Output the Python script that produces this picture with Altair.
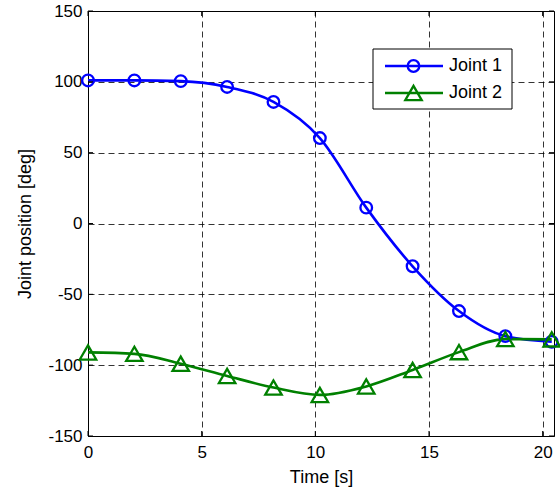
import altair as alt
import pandas as pd

# ---- data ----
time = [0, 2.04, 4.08, 6.12, 8.16, 10.2, 12.24, 14.28, 16.32, 18.36, 20.4]
joint1 = [101, 101, 100.5, 96.4, 85.8, 60.3, 11.2, -30.2, -61.8, -79.5, -83.5]
joint2 = [-91, -92, -99, -107.6, -115.8, -121, -115, -103.4, -90.8, -81.6, -81.8]
series_names = ["Joint 1", "Joint 2"]
series_colors = ["#0000ff", "#008000"]
series_shapes = ["circle", "triangle-up"]
x_ticks = [0, 5, 10, 15, 20]
y_ticks = [-150, -100, -50, 0, 50, 100, 150]

W, H = 466, 425
FONT = "Liberation Sans"

rows = []
for t, a, b in zip(time, joint1, joint2):
    rows.append({"t": t, "v": a, "s": "Joint 1"})
    rows.append({"t": t, "v": b, "s": "Joint 2"})
df = pd.DataFrame(rows)

xs = alt.Scale(domain=[0, 20.5], nice=False, zero=False)
ys = alt.Scale(domain=[-150, 150], nice=False, zero=False)
cs = alt.Scale(domain=series_names, range=series_colors)
ss = alt.Scale(domain=series_names, range=series_shapes)

grid_axis = dict(grid=True, gridColor="#000000", gridDash=[6, 4], gridWidth=0.8,
                 ticks=False, domain=False, labelFont=FONT, labelFontSize=17,
                 labelColor="#000000", titleFont=FONT, titleFontSize=18,
                 titleFontWeight="normal", titleColor="#000000", labelFlush=False,
                 labelExpr="toString(datum.value)")

base = alt.Chart(df)
lines = base.mark_line(strokeWidth=2.6, interpolate="monotone").encode(
    x=alt.X("t:Q", scale=xs, axis=alt.Axis(values=x_ticks, title="Time [s]",
                                           labelPadding=8, titlePadding=8, **grid_axis)),
    y=alt.Y("v:Q", scale=ys, axis=alt.Axis(values=y_ticks, title="Joint position [deg]",
                                           labelPadding=6, titlePadding=13, **grid_axis)),
    color=alt.Color("s:N", scale=cs, legend=None),
    detail="s:N",
)
points = base.mark_point(filled=False, strokeWidth=2.3, opacity=1).encode(
    x=alt.X("t:Q", scale=xs),
    y=alt.Y("v:Q", scale=ys),
    color=alt.Color("s:N", scale=cs, legend=None),
    shape=alt.Shape("s:N", scale=ss, legend=None),
    size=alt.condition("datum.s == 'Joint 1'", alt.value(135), alt.value(270)),
)

# inward ticks on all four sides
xt = pd.DataFrame({"t": x_ticks})
yt = pd.DataFrame({"v": y_ticks})
tick_style = dict(color="#000000", strokeWidth=1)
xb = alt.Chart(xt).mark_rule(**tick_style).encode(x=alt.X("t:Q", scale=xs), y=alt.value(H), y2=alt.value(H - 5))
xtop = alt.Chart(xt).mark_rule(**tick_style).encode(x=alt.X("t:Q", scale=xs), y=alt.value(0), y2=alt.value(5))
yl = alt.Chart(yt).mark_rule(**tick_style).encode(y=alt.Y("v:Q", scale=ys), x=alt.value(0), x2=alt.value(5))
yr = alt.Chart(yt).mark_rule(**tick_style).encode(y=alt.Y("v:Q", scale=ys), x=alt.value(W), x2=alt.value(W - 5))

# legend box (drawn manually, MATLAB style)
leg_df = pd.DataFrame({"s": series_names})
box = alt.Chart(leg_df.head(1)).mark_rect(fill="white", stroke="black", strokeWidth=1).encode(
    x=alt.value(285), x2=alt.value(424), y=alt.value(38), y2=alt.value(98))
leg_layers = [box]
for i, (name, col, shp) in enumerate(zip(series_names, series_colors, series_shapes)):
    yy = 55 + 27 * i
    one = alt.Chart(leg_df.iloc[[i]])
    leg_layers.append(one.mark_rule(color=col, strokeWidth=2.6).encode(
        x=alt.value(297), x2=alt.value(355), y=alt.value(yy)))
    leg_layers.append(one.mark_point(filled=False, color=col, strokeWidth=2.3, opacity=1,
                                     shape=shp, size=135 if i == 0 else 270).encode(
        x=alt.value(325.5), y=alt.value(yy)))
    leg_layers.append(one.mark_text(align="left", baseline="middle", font=FONT, fontSize=18,
                                    color="black").encode(
        x=alt.value(361), y=alt.value(yy), text="s:N"))

chart = alt.layer(lines, points, xb, xtop, yl, yr, *leg_layers).properties(
    width=W, height=H,
    padding={"left": 88, "top": 11, "right": 6, "bottom": 55},
    autosize=alt.AutoSizeParams(type="none"),
    background="white",
).configure_view(stroke="black", strokeWidth=1)

chart.save("out.html", embed_options={"renderer": "svg", "actions": False})
